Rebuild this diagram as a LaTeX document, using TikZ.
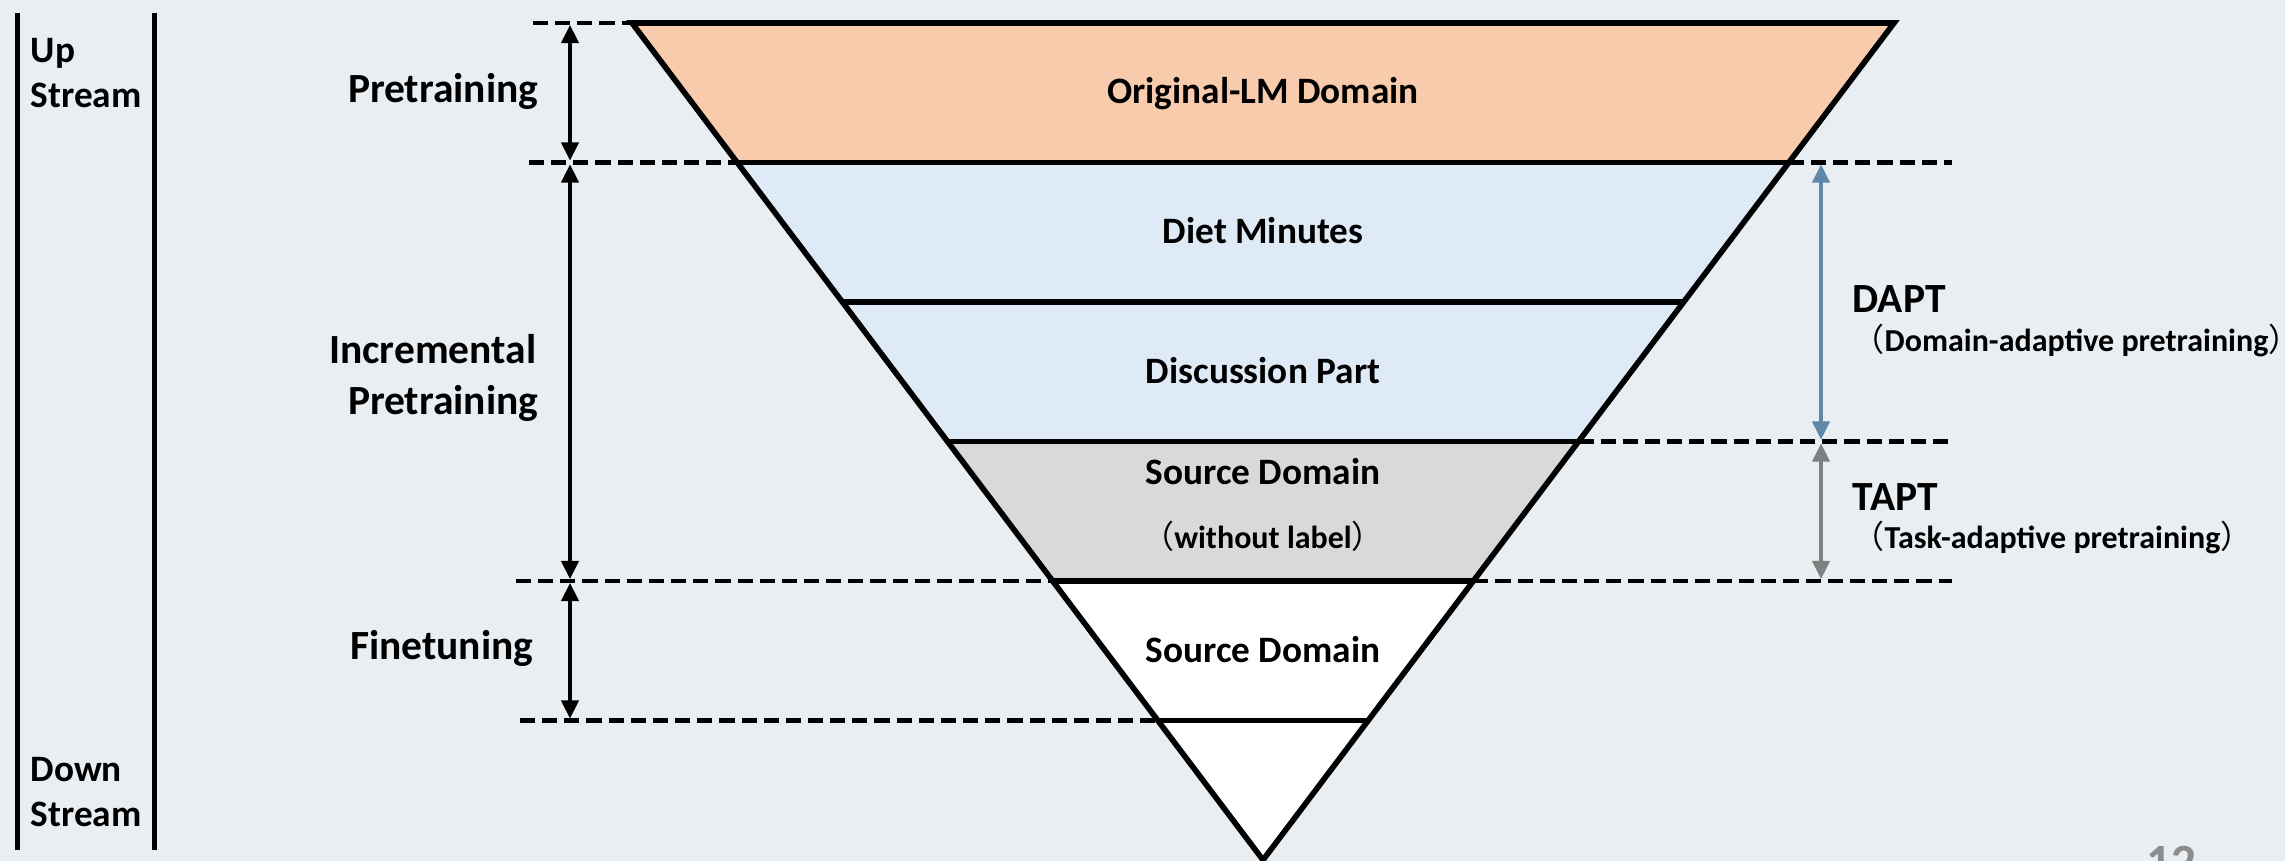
\documentclass[tikz,border=0pt]{standalone}
\usepackage{fontspec}
\setmainfont{Carlito}
\newfontfamily\cjk{Noto Sans CJK SC}
\usetikzlibrary{arrows.meta}
\definecolor{bg}{HTML}{E9EEF3}
\definecolor{peach}{HTML}{F8CBAD}
\definecolor{paleblue}{HTML}{DEEBF7}
\definecolor{bandgray}{HTML}{D9D9D9}
\definecolor{daptblue}{HTML}{5E87A9}
\definecolor{taptgray}{HTML}{808080}
\definecolor{pagegray}{HTML}{8C8C8C}
\newcommand{\lpar}{{\mdseries\cjk （}}
\newcommand{\rpar}{{\mdseries\cjk ）}}
% closing paren whose empty right half is trimmed off
\newcommand{\rparnarrow}{\makebox[0.5em][l]{\mdseries\cjk ）}}
\begin{document}
\begin{tikzpicture}[x=0.01cm,y=-0.01cm,
  edge/.style={line width=1.6pt, line join=miter},
  level/.style={line width=1.6pt},
  guide/.style={line width=1.3pt, dash pattern=on 4.3pt off 2pt},
  span/.style={line width=1.2pt,
    {Triangle[length=5.2pt,width=4.8pt]}-{Triangle[length=5.2pt,width=4.8pt]},
    shorten <=0.5pt, shorten >=0.5pt},
  rule/.style={line width=1.3pt},
  txt/.style={inner sep=0pt, font=\bfseries\fontsize{10.6}{12}\selectfont},
  big/.style={inner sep=0pt, font=\bfseries\fontsize{11.8}{14}\selectfont},
  small/.style={inner sep=0pt, font=\bfseries\fontsize{9.1}{11}\selectfont},
]
\useasboundingbox (0,0) rectangle (2285,861);
\fill[bg] (0,0) rectangle (2285,861);

% funnel corners, one pair per level
\coordinate (L0) at (632,23);     \coordinate (R0) at (1894,23);
\coordinate (L1) at (737.2,162.5);  \coordinate (R1) at (1788.8,162.5);
\coordinate (L2) at (842.3,302);    \coordinate (R2) at (1683.7,302);
\coordinate (L3) at (947.5,441.5);  \coordinate (R3) at (1578.5,441.5);
\coordinate (L4) at (1052.7,581);   \coordinate (R4) at (1473.3,581);
\coordinate (L5) at (1157.8,720.5); \coordinate (R5) at (1368.2,720.5);
\coordinate (apex) at (1263,860);

% band fills
\fill[peach] (L0)--(R0)--(R1)--(L1)--cycle;
\fill[paleblue] (L1)--(R1)--(R3)--(L3)--cycle;
\fill[bandgray] (L3)--(R3)--(R4)--(L4)--cycle;
\fill[white] (L4)--(R4)--(apex)--cycle;

% dashed guide lines
\coordinate (g0) at (533,23);
\coordinate (g1) at (529,162.5);
\coordinate (g4) at (516,581);
\coordinate (g5) at (520,720.5);
\coordinate (h1) at (1952,162.5);
\coordinate (h3) at (1952,441.5);
\coordinate (h4) at (1952,581);
\draw[guide] (g0)--(L0);
\draw[guide] (g1)--(L1);
\draw[guide] (g4)--(L4);
\draw[guide] (g5)--(L5);
\draw[guide] (R1)--(h1);
\draw[guide] (R3)--(h3);
\draw[guide] (R4)--(h4);

% band separators and outline
\draw[level] (L1)--(R1);
\draw[level] (L2)--(R2);
\draw[level] (L3)--(R3);
\draw[level] (L4)--(R4);
\draw[level] (L5)--(R5);
\draw[edge] (L0)--(R0)--(apex)--cycle;

% stage spans on the left
\coordinate (a0) at (570,23);
\coordinate (a1) at (570,162.5);
\coordinate (a4) at (570,581);
\coordinate (a5) at (570,720.5);
\draw[span] (a0)--(a1);
\draw[span] (a1)--(a4);
\draw[span] (a4)--(a5);

% DAPT / TAPT spans on the right
\coordinate (b1) at (1821,162.5);
\coordinate (b3) at (1821,441.5);
\coordinate (b4) at (1821,581);
\draw[span, daptblue] (b1)--(b3);
\draw[span, taptgray] (b3)--(b4);

% up/down stream rules
\coordinate (v1t) at (17.5,13);  \coordinate (v1b) at (17.5,850);
\coordinate (v2t) at (154.5,13); \coordinate (v2b) at (154.5,850);
\draw[rule] (v1t)--(v1b);
\draw[rule] (v2t)--(v2b);

% stream labels
\node[txt, anchor=base west] (up1) at (30,63) {Up};
\node[txt, anchor=base west] (up2) at (30,108) {Stream};
\node[txt, anchor=base west] (dn1) at (30,781) {Down};
\node[txt, anchor=base west] (dn2) at (30,826) {Stream};

% stage labels
\node[big, anchor=base east] (pre) at (539,103) {Pretraining};
\node[big, anchor=base east] (inc1) at (537,364) {Incremental};
\node[big, anchor=base east] (inc2) at (539,415) {Pretraining};
\node[big, anchor=base east] (fin) at (534,659) {Finetuning};

% band labels
\node[txt, anchor=base] (orig) at (1263,104) {Original-LM Domain};
\node[txt, anchor=base] (diet) at (1263,244) {Diet Minutes};
\node[txt, anchor=base] (disc) at (1263,384) {Discussion Part};
\node[txt, anchor=base] (src1) at (1263,485) {Source Domain};
\node[small, anchor=base] (nolab) at (1263,548) {\lpar without label\rpar};
\node[txt, anchor=base] (src2) at (1263,662) {Source Domain};

% adaptive pretraining labels
\node[big, anchor=base west] (dapt) at (1852,313) {DAPT};
\node[small, anchor=base west] (daptx) at (1852,352) {\lpar Domain-adaptive pretraining\rparnarrow};
\node[big, anchor=base west] (tapt) at (1852,510) {TAPT};
\node[small, anchor=base west] (taptx) at (1852,548) {\lpar Task-adaptive pretraining\rpar};

% page number
\node[anchor=base west, inner sep=0pt, text=pagegray,
  font=\bfseries\fontsize{14}{16}\selectfont] (page) at (2146,878) {12};
\end{tikzpicture}
\end{document}
